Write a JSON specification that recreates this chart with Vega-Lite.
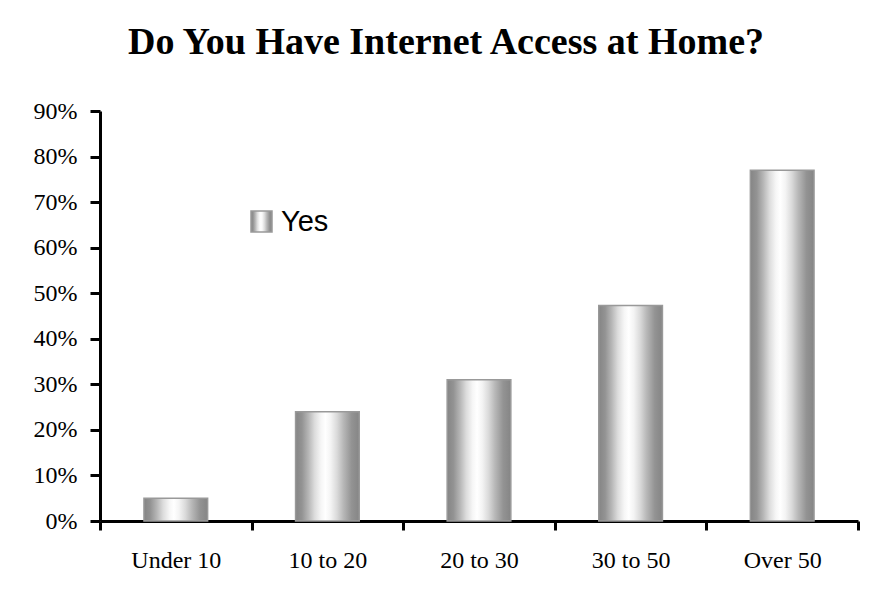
{
  "$schema": "https://vega.github.io/schema/vega-lite/v6.json",
  "autosize": {"type": "none"},
  "width": 758,
  "height": 410,
  "padding": {"left": 100, "top": 111, "right": 22, "bottom": 82},
  "background": "white",
  "title": {
    "text": "Do You Have Internet Access at Home?",
    "font": "Liberation Serif",
    "fontSize": 38,
    "fontWeight": "bold",
    "color": "black",
    "anchor": "middle",
    "dx": -33,
    "offset": 37
  },
  "data": {
    "values": [
      {"age": "Under 10", "share": 0.05, "series": "Yes"},
      {"age": "10 to 20", "share": 0.24, "series": "Yes"},
      {"age": "20 to 30", "share": 0.31, "series": "Yes"},
      {"age": "30 to 50", "share": 0.473, "series": "Yes"},
      {"age": "Over 50", "share": 0.77, "series": "Yes"}
    ]
  },
  "mark": {
    "type": "bar",
    "width": {"band": 0.42},
    "color": {
      "gradient": "linear",
      "x1": 0, "x2": 1, "y1": 0, "y2": 0,
      "stops": [
        {"offset": 0, "color": "#858585"},
        {"offset": 0.1, "color": "#939393"},
        {"offset": 0.2, "color": "#b5b5b5"},
        {"offset": 0.3, "color": "#dcdcdc"},
        {"offset": 0.4, "color": "#f6f6f6"},
        {"offset": 0.47, "color": "#ffffff"},
        {"offset": 0.55, "color": "#f4f4f4"},
        {"offset": 0.65, "color": "#dadada"},
        {"offset": 0.75, "color": "#b8b8b8"},
        {"offset": 0.88, "color": "#939393"},
        {"offset": 1, "color": "#858585"}
      ]
    },
    "strokeWidth": 1.5
  },
  "encoding": {
    "x": {
      "field": "age",
      "type": "nominal",
      "sort": null,
      "scale": {"paddingInner": 0, "paddingOuter": 0},
      "axis": {
        "title": null,
        "labelAngle": 0,
        "tickBand": "extent",
        "labelFont": "Liberation Serif",
        "labelFontSize": 24,
        "labelColor": "black",
        "labelPadding": 18,
        "tickSize": 9,
        "tickWidth": 3,
        "tickColor": "black",
        "domainWidth": 3,
        "domainColor": "black"
      }
    },
    "y": {
      "field": "share",
      "type": "quantitative",
      "scale": {"domain": [0, 0.9], "nice": false},
      "axis": {
        "title": null,
        "format": ".0%",
        "values": [0, 0.1, 0.2, 0.3, 0.4, 0.5, 0.6, 0.7, 0.8, 0.9],
        "grid": false,
        "labelFont": "Liberation Serif",
        "labelFontSize": 24,
        "labelColor": "black",
        "labelPadding": 13,
        "tickSize": 10,
        "tickWidth": 3,
        "tickColor": "black",
        "domainWidth": 3,
        "domainColor": "black"
      }
    },
    "stroke": {
      "field": "series",
      "type": "nominal",
      "scale": {"domain": ["Yes"], "range": ["#999999"]},
      "legend": {
        "title": null,
        "orient": "none",
        "legendX": 147,
        "legendY": 96,
        "padding": 0,
        "symbolType": "square",
        "symbolSize": 441,
        "symbolStrokeWidth": 1.5,
        "symbolFillColor": {
          "gradient": "linear",
          "x1": 0, "x2": 1, "y1": 0, "y2": 0,
          "stops": [
            {"offset": 0, "color": "#858585"},
            {"offset": 0.2, "color": "#b5b5b5"},
            {"offset": 0.47, "color": "#ffffff"},
            {"offset": 0.75, "color": "#b8b8b8"},
            {"offset": 1, "color": "#858585"}
          ]
        },
        "labelFont": "Liberation Sans",
        "labelFontSize": 29,
        "labelColor": "black",
        "labelOffset": 5
      }
    }
  },
  "config": {
    "view": {"stroke": null}
  }
}
